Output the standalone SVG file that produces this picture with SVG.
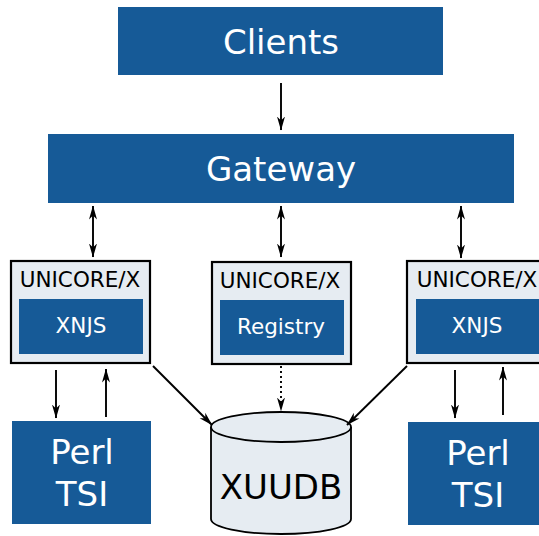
<svg xmlns="http://www.w3.org/2000/svg" width="539" height="536" viewBox="0 0 539 536">
<style>
.blue{fill:#165a97}
.box{fill:#e6ecf2;stroke:#000;stroke-width:2.2}
.wt{fill:#fff;font-family:"DejaVu Sans",sans-serif;text-anchor:middle}
.bt{fill:#000;font-family:"DejaVu Sans",sans-serif;text-anchor:middle}
.ln{stroke:#000;stroke-width:1.9;fill:none}
</style>
<defs>
<marker id="ah" viewBox="0 0 14 9" refX="13.5" refY="4.5" markerWidth="14" markerHeight="9" markerUnits="userSpaceOnUse" orient="auto-start-reverse">
<path d="M0,0.5 L14,4.5 L0,8.5 L4,4.5 Z" fill="#000"/>
</marker>
</defs>
<rect width="539" height="536" fill="#fff"/>
<g id="clients"><rect class="blue" x="118" y="7" width="325" height="68"/><text class="wt" x="281" y="54" font-size="34">Clients</text></g>
<g id="gateway"><rect class="blue" x="48" y="134" width="466" height="69"/><text class="wt" x="281" y="181" font-size="34">Gateway</text></g>
<g id="ux1"><rect class="box" x="11" y="261" width="139" height="102"/><text class="bt" x="80" y="287" font-size="21.5">UNICORE/X</text><rect class="blue" x="19" y="299" width="124" height="55"/><text class="wt" x="81" y="333" font-size="21.5">XNJS</text></g>
<g id="ux2"><rect class="box" x="212" y="262" width="139" height="102"/><text class="bt" x="280" y="288" font-size="21.5">UNICORE/X</text><rect class="blue" x="220" y="300" width="124" height="55"/><text class="wt" x="281" y="334" font-size="21.5">Registry</text></g>
<g id="ux3"><rect class="box" x="407" y="261" width="140" height="102"/><text class="bt" x="477" y="287" font-size="21.5">UNICORE/X</text><rect class="blue" x="416" y="299" width="124" height="55"/><text class="wt" x="477" y="333" font-size="21.5">XNJS</text></g>
<g id="tsi1"><rect class="blue" x="12" y="421" width="139" height="103"/><text class="wt" x="82" y="464" font-size="34">Perl</text><text class="wt" x="82" y="506" font-size="34">TSI</text></g>
<g id="tsi2"><rect class="blue" x="408" y="422" width="131" height="103"/><text class="wt" x="478" y="465" font-size="34">Perl</text><text class="wt" x="478" y="507" font-size="34">TSI</text></g>
<g id="xuudb">
<path d="M211,427 L211,519 A70,15 0 0 0 351,519 L351,427" fill="#e6ecf2" stroke="#000" stroke-width="1.8"/>
<ellipse cx="281" cy="427" rx="70" ry="15" fill="#e6ecf2" stroke="#000" stroke-width="1.8"/>
<text class="bt" x="281" y="499" font-size="34">XUUDB</text>
</g>
<g id="connectors">
<line class="ln" x1="281" y1="83" x2="281" y2="130" marker-end="url(#ah)"/>
<line class="ln" x1="93" y1="206" x2="93" y2="257" marker-start="url(#ah)" marker-end="url(#ah)"/>
<line class="ln" x1="281" y1="206" x2="281" y2="257" marker-start="url(#ah)" marker-end="url(#ah)"/>
<line class="ln" x1="461" y1="206" x2="461" y2="258" marker-start="url(#ah)" marker-end="url(#ah)"/>
<line class="ln" x1="56" y1="370" x2="56" y2="418" marker-end="url(#ah)"/>
<line class="ln" x1="106" y1="417" x2="106" y2="369" marker-end="url(#ah)"/>
<line class="ln" x1="455" y1="370" x2="455" y2="418" marker-end="url(#ah)"/>
<line class="ln" x1="503" y1="415" x2="503" y2="367" marker-end="url(#ah)"/>
<line class="ln" x1="153" y1="366" x2="212" y2="425" marker-end="url(#ah)"/>
<line class="ln" x1="407" y1="366" x2="347" y2="425" marker-end="url(#ah)"/>
<line class="ln" x1="281" y1="366" x2="281" y2="411" stroke-dasharray="2,3" marker-end="url(#ah)"/>
</g>
</svg>
